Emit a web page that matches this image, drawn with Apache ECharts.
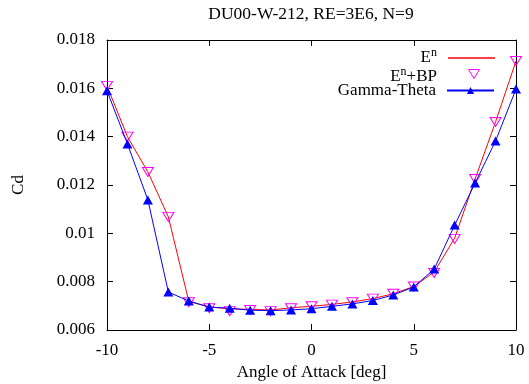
<!DOCTYPE html>
<html>
<head>
<meta charset="utf-8">
<script src="https://cdn.jsdelivr.net/npm/echarts@6/dist/echarts.min.js"></script>
<style>
  html, body { margin: 0; padding: 0; background: #fff; }
  #chart { width: 529px; height: 384px; }
</style>
</head>
<body>
<div id="chart"></div>
<script>
// angle of attack [deg]
const alpha = [-10, -9, -8, -7, -6, -5, -4, -3, -2, -1, 0, 1, 2, 3, 4, 5, 6, 7, 8, 9, 10];
// E^n transition model
const cdEn = [0.0161, 0.0140, 0.01254, 0.01068, 0.00718, 0.00695, 0.00688, 0.00685, 0.00683, 0.00692, 0.00698,
  0.00706, 0.00716, 0.0073, 0.0075, 0.0078, 0.0084, 0.0098, 0.01225, 0.01461, 0.01713];
// E^n + BP
const cdEnBP = [0.0161, 0.0140, 0.01254, 0.01068, 0.00715, 0.0069, 0.00678, 0.00683, 0.00678, 0.0069, 0.00698,
  0.00705, 0.00715, 0.0073, 0.0075, 0.0078, 0.00836, 0.00977, 0.01225, 0.01461, 0.01713];
// Gamma-Theta
const cdGT = [0.0159, 0.0137, 0.01138, 0.00757, 0.0072, 0.00695, 0.0069, 0.00682, 0.0068, 0.00683, 0.00688,
  0.00698, 0.00708, 0.00722, 0.00745, 0.00778, 0.00852, 0.01034, 0.01208, 0.01382, 0.01597];

const xTicks = [-10, -5, 0, 5, 10];

const pairs = arr => alpha.map((a, i) => [a, arr[i]]);
const font = 'Liberation Serif, Times New Roman, serif';
const fs = 17;
const downTri = 'path://M0,0 L10,0 L5,9 Z';

const chart = echarts.init(document.getElementById('chart'));

const baseAxis = {
  axisLine: {onZero: false, lineStyle: {color: '#000', width: 1}},
  axisTick: {inside: true, length: 6, lineStyle: {color: '#000'}},
  splitLine: {show: false},
  axisLabel: {color: '#000', fontFamily: font, fontSize: fs}
};

const legendBase = {
  orient: 'vertical',
  align: 'right',
  padding: 0,
  itemWidth: 47,
  itemHeight: 9,
  right: 34,
  textStyle: {
    fontFamily: font, fontSize: fs, color: '#000', padding: [0, 6, 0, 0],
    rich: {sup: {fontFamily: font, fontSize: 12, verticalAlign: 'bottom', padding: [0, 0, 10, 0], color: '#000'}}
  },
  formatter: name => name.replace('^n', '{sup|n}')
};

chart.setOption({
  animation: false,
  title: {
    text: 'DU00-W-212, RE=3E6, N=9',
    left: 311, top: 5, padding: 0, textAlign: 'center',
    textStyle: {fontFamily: font, fontSize: 17.5, fontWeight: 'normal', color: '#000'}
  },
  legend: [
    Object.assign({}, legendBase, {top: 47, itemHeight: 1.5, data: [{name: 'E^n', icon: 'rect'}]}),
    Object.assign({}, legendBase, {top: 66, itemStyle: {opacity: 0}, lineStyle: {opacity: 0}, data: ['E^n+BP']}),
    Object.assign({}, legendBase, {top: 82, data: ['Gamma-Theta']})
  ],
  // legend marker for the E^n+BP entry
  graphic: [{
    type: 'polygon', left: 466, top: 67,
    shape: {points: [[0, 0], [11, 0], [5.5, 9]]},
    style: {fill: 'none', stroke: '#ff00ff', lineWidth: 1}
  }],
  grid: {left: 107, right: 13, top: 40, bottom: 54, outerBoundsMode: 'none'},
  xAxis: [
    Object.assign({}, baseAxis, {
      type: 'value', min: -10, max: 10, interval: 5,
      name: 'Angle of Attack [deg]', nameLocation: 'middle', nameGap: 34,
      nameTextStyle: {fontFamily: font, fontSize: fs, color: '#000'},
      axisLabel: Object.assign({}, baseAxis.axisLabel, {margin: 12, formatter: v => xTicks.includes(v) ? String(v) : ''})
    }),
    Object.assign({}, baseAxis, {
      type: 'value', min: -10, max: 10, interval: 5, position: 'top',
      axisLabel: {show: false}
    })
  ],
  yAxis: [
    Object.assign({}, baseAxis, {
      type: 'value', min: 0.006, max: 0.018, interval: 0.002,
      name: 'Cd', nameLocation: 'middle', nameGap: 80, nameRotate: 90,
      nameTextStyle: {fontFamily: font, fontSize: fs, color: '#000'},
      axisLabel: Object.assign({}, baseAxis.axisLabel, {margin: 12, formatter: v => String(parseFloat(v.toFixed(3)))})
    }),
    Object.assign({}, baseAxis, {
      type: 'value', min: 0.006, max: 0.018, interval: 0.002, position: 'right',
      axisLabel: {show: false}
    })
  ],
  series: [
    {
      name: 'E^n', type: 'line', data: pairs(cdEn),
      showSymbol: false, symbol: 'none',
      lineStyle: {color: '#ff0000', width: 1}, itemStyle: {color: '#ff0000'}, z: 2
    },
    {
      // markers only, no connecting line
      name: 'E^n+BP', type: 'line', data: pairs(cdEnBP),
      symbol: downTri, symbolSize: [11, 9], showSymbol: true,
      lineStyle: {width: 0, opacity: 0},
      itemStyle: {color: 'rgba(0,0,0,0)', borderColor: '#ff00ff', borderWidth: 1}, z: 3
    },
    {
      name: 'Gamma-Theta', type: 'line', data: pairs(cdGT),
      symbol: 'triangle', symbolSize: [10, 9],
      lineStyle: {color: '#0000ff', width: 1}, itemStyle: {color: '#0000ff'}, z: 4
    }
  ]
});
</script>
</body>
</html>
